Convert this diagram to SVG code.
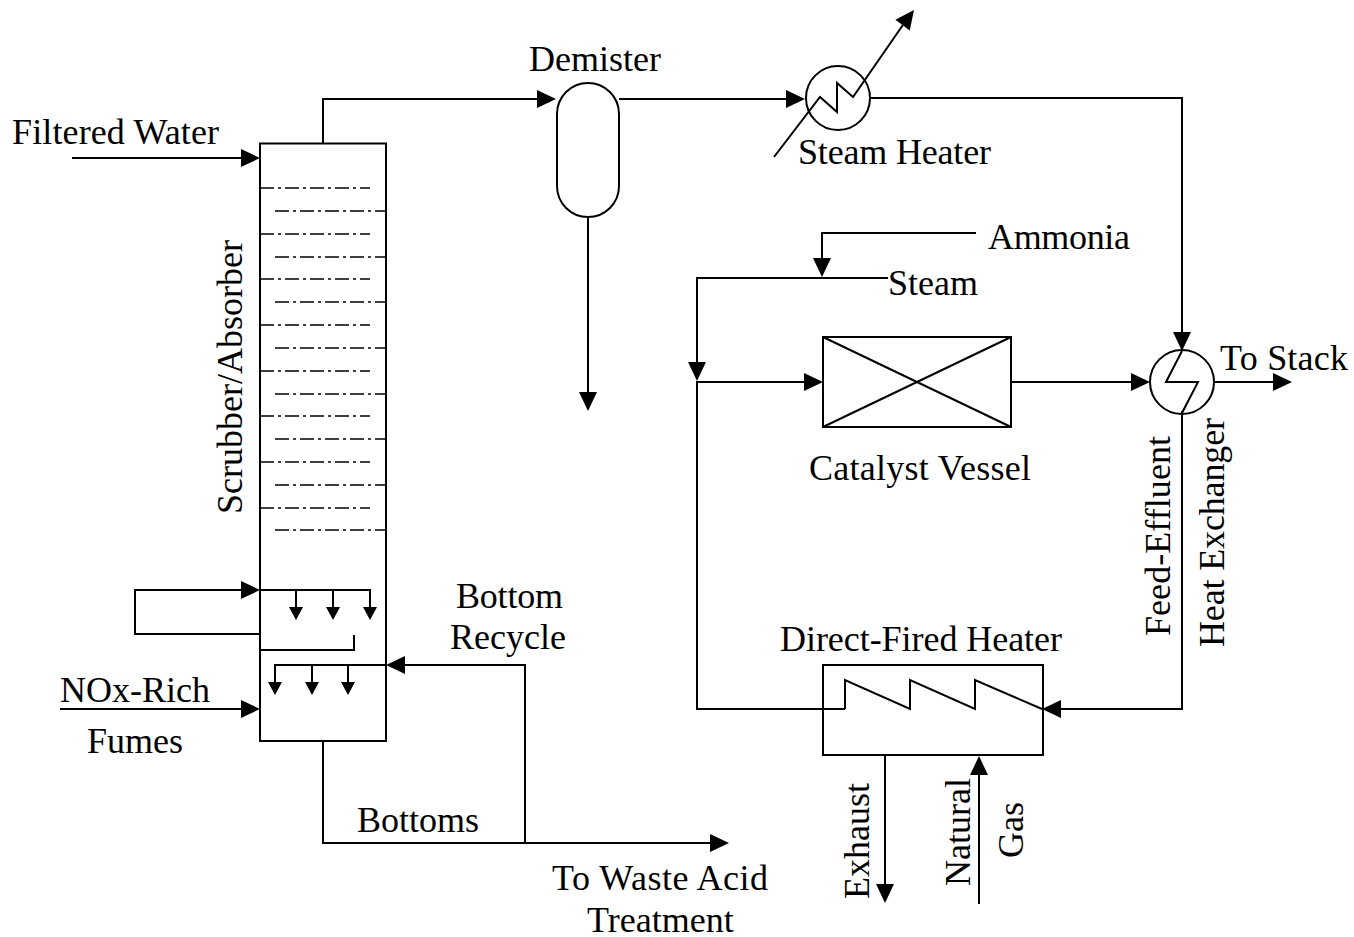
<svg xmlns="http://www.w3.org/2000/svg" width="1354" height="937" viewBox="0 0 1354 937">
<style>
.l{fill:none;stroke:#000;stroke-width:2}
.t{fill:none;stroke:#000;stroke-width:1.6;stroke-dasharray:14 4 3 4}
.a{fill:#000}
text{font-family:"Liberation Serif","Times New Roman",serif;font-size:36px;fill:#000}
</style>
<defs>
<path id="ah" class="a" d="M0 0L-19 -9L-19 9Z"/>
<path id="as" class="a" d="M0 0L-13 -7L-13 7Z"/>
</defs>
<rect width="1354" height="937" fill="#fff"/>
<g id="connectors">
<path class="l" d="M72 158H241"/><use href="#ah" x="260" y="158"/>
<path class="l" d="M323 143V99H538"/><use href="#ah" x="556" y="99"/>
<path class="l" d="M619 99H787"/><use href="#ah" x="805" y="99"/>
<path class="l" d="M588 217V392"/><use href="#ah" transform="translate(588 411) rotate(90)"/>
<path class="l" d="M870 98H1182V332"/><use href="#ah" transform="translate(1182 351) rotate(90)"/>
<path class="l" d="M976 233H822V258"/><use href="#ah" transform="translate(822 277) rotate(90)"/>
<path class="l" d="M888 278H697V362"/><use href="#ah" transform="translate(697 381) rotate(90)"/>
<path class="l" d="M697 381V709H845"/>
<path class="l" d="M697 382H804"/><use href="#ah" x="823" y="382"/>
<path class="l" d="M1012 382H1131"/><use href="#ah" x="1150" y="382"/>
<path class="l" d="M1214 382H1273"/><use href="#ah" x="1292" y="382"/>
<path class="l" d="M1182 411V709H1061"/><use href="#ah" transform="translate(1042 709) rotate(180)"/>
<path class="l" d="M885 755V884"/><use href="#ah" transform="translate(885 903) rotate(90)"/>
<path class="l" d="M979 904V775"/><use href="#ah" transform="translate(979 756) rotate(-90)"/>
<path class="l" d="M60 709H241"/><use href="#ah" x="260" y="709"/>
<path class="l" d="M323 741V843H710"/><use href="#ah" x="729" y="843"/>
<path class="l" d="M525 843V665H405"/><use href="#ah" transform="translate(386 665) rotate(180)"/>
<path class="l" d="M260 634H135V590H241"/><use href="#ah" x="260" y="590"/>
</g>
<g id="scrubber">
<rect class="l" x="260" y="143.500" width="126" height="597.500"/>
<path class="t" d="M260 188H370M275 211H386M260 234H370M275 257H386M260 279H370M275 302H386M260 325H370M275 348H386M260 371H370M275 394H386M260 416H370M275 439H386M260 462H370M275 485H386M260 508H370M275 530H386"/>
<path class="l" d="M260 590H370V607M296 590V607M333 590V607"/>
<use href="#as" transform="translate(296 620) rotate(90)"/><use href="#as" transform="translate(333 620) rotate(90)"/><use href="#as" transform="translate(370 620) rotate(90)"/>
<path class="l" d="M260 650H354V635"/>
<path class="l" d="M386 665H275V682M312 665V682M348 665V682"/>
<use href="#as" transform="translate(275 695) rotate(90)"/><use href="#as" transform="translate(312 695) rotate(90)"/><use href="#as" transform="translate(348 695) rotate(90)"/>
<text transform="translate(242 514) rotate(-90)" textLength="274">Scrubber/Absorber</text>
</g>
<g id="demister">
<path class="l" d="M557 114A31 31 0 0 1 619 114V186A31 31 0 0 1 557 186Z"/>
<text x="529" y="71" textLength="132">Demister</text>
</g>
<g id="steam-heater">
<circle class="l" cx="838" cy="98" r="32"/>
<path class="l" d="M774 157L820 97L837 112V83L853 97L905 22"/>
<use href="#ah" transform="translate(914 10) rotate(-53)"/>
<text x="798" y="164" textLength="193">Steam Heater</text>
</g>
<g id="catalyst-vessel">
<rect class="l" x="823" y="337" width="188" height="90"/>
<path class="l" d="M823 337L1011 427M1011 337L823 427"/>
<text x="809" y="480" textLength="222">Catalyst Vessel</text>
</g>
<g id="feed-effluent-exchanger">
<circle class="l" cx="1182" cy="382" r="32"/>
<path class="l" d="M1182 351L1166 382H1198L1182 413"/>
<text transform="translate(1170 636) rotate(-90)" textLength="200">Feed-Effluent</text>
<text transform="translate(1224 647) rotate(-90)" textLength="229">Heat Exchanger</text>
</g>
<g id="direct-fired-heater">
<rect class="l" x="823" y="665" width="220" height="90"/>
<path class="l" d="M845 709V680L910 709V680L975 709V680L1042 709"/>
<text x="780" y="651" textLength="282">Direct-Fired Heater</text>
</g>
<g id="labels">
<text x="12" y="144" textLength="207">Filtered Water</text>
<text x="60" y="702">NOx-Rich</text>
<text x="87" y="753">Fumes</text>
<text x="456" y="608" textLength="107">Bottom</text>
<text x="450" y="649">Recycle</text>
<text x="357" y="832">Bottoms</text>
<text x="552" y="890" textLength="216">To Waste Acid</text>
<text x="587" y="932">Treatment</text>
<text x="988" y="249" textLength="142">Ammonia</text>
<text x="888" y="295">Steam</text>
<text x="1220" y="370" textLength="128">To Stack</text>
<text transform="translate(869 899) rotate(-90)" textLength="116">Exhaust</text>
<text transform="translate(970 886) rotate(-90)" textLength="108">Natural</text>
<text transform="translate(1023 858) rotate(-90)">Gas</text>
</g>
</svg>
